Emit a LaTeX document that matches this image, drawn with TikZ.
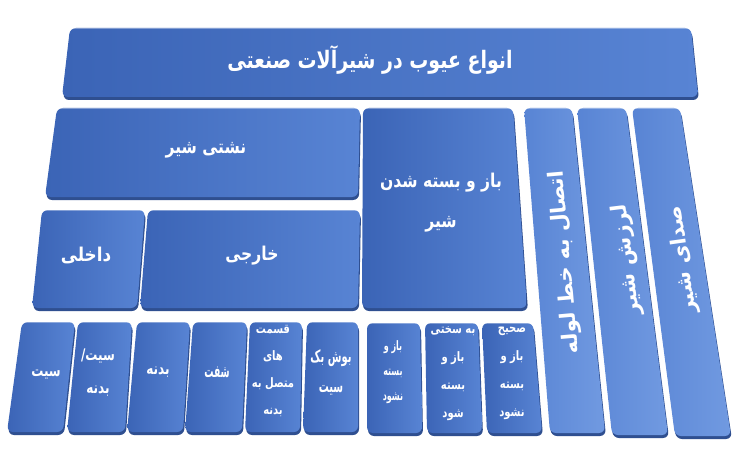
\documentclass[tikz,border=0pt]{standalone}
\usepackage{fontspec}
\newfontfamily\fa[Script=Arabic]{DejaVu Sans}
\TeXXeTstate=1
\definecolor{bdark}{HTML}{3B64B6}
\definecolor{blight}{HTML}{5884D4}
\definecolor{bedge}{HTML}{2F4F90}
\definecolor{vlight}{HTML}{719AE1}
\newcommand\R[1]{\beginR #1\endR}
\newcommand\panel[5]{%
  \fill[bedge, rounded corners=6pt, yshift=-3pt, xshift=1pt] #2 -- #3 -- #4 -- #5 -- cycle;
  \shade[rounded corners=6pt, #1] #2 -- #3 -- #4 -- #5 -- cycle;
  \draw[white, opacity=0.35, line width=0.8pt, rounded corners=6pt] #2 -- #3;}
\newcommand\fz[2]{\fa\bfseries\fontsize{#1}{#2}\selectfont}
\tikzset{
  boxfill/.style={left color=bdark, right color=blight},
  barfill/.style={left color=blight, right color=vlight},
  lbl/.style={text=white, align=center, inner sep=0pt},
  big/.style={lbl, font=\fz{24}{30}, xscale=0.79},
  mid/.style={lbl, font=\fz{19}{40}, xscale=0.82},
  vert/.style={lbl, font=\fz{21}{26}},
  small/.style={lbl, font=\fz{16}{33}, xscale=0.75},
  tiny/.style={lbl, font=\fz{13}{27}, xscale=0.77}
}
\begin{document}
\begin{tikzpicture}[x=1pt, y=-1pt]
\useasboundingbox[fill=white] (0,0) rectangle (750,468);
% title
\panel{boxfill}{(70,28)}{(691,28)}{(698,97)}{(62,97)}
% row 2
\panel{boxfill}{(57,108)}{(360,108)}{(358,197)}{(45,197)}
\panel{boxfill}{(363,108)}{(513,108)}{(527,308)}{(362,308)}
% right bars
\panel{barfill}{(524,108)}{(572,108)}{(605,433)}{(550,433)}
\panel{barfill}{(577,108)}{(626,108)}{(668,435)}{(612,435)}
\panel{barfill}{(632,108)}{(680,108)}{(731,436)}{(675,436)}
% row 3
\panel{boxfill}{(42,210)}{(145,210)}{(137,308)}{(32,308)}
\panel{boxfill}{(148,210)}{(360,210)}{(358,308)}{(140,308)}
% row 4
\panel{boxfill}{(22,322)}{(75,322)}{(63,432)}{(7,432)}
\panel{boxfill}{(78,322)}{(132,322)}{(125,432)}{(67,432)}
\panel{boxfill}{(137,322)}{(190,322)}{(183,432)}{(127,432)}
\panel{boxfill}{(193,322)}{(247,322)}{(242,432)}{(185,432)}
\panel{boxfill}{(250,322)}{(302,322)}{(300,432)}{(245,432)}
\panel{boxfill}{(307,322)}{(358,322)}{(358,432)}{(303,432)}
\panel{boxfill}{(367,323)}{(420,323)}{(422,433)}{(367,433)}
\panel{boxfill}{(425,323)}{(478,323)}{(482,433)}{(427,433)}
\panel{boxfill}{(482,323)}{(533,323)}{(542,433)}{(487,433)}
% labels
\node[big] (title) at (370,60) {\R{انواع عیوب در شیرآلات صنعتی}};
\node[mid] (leak) at (206,150) {\R{نشتی شیر}};
\node[mid] (open) at (441,203) {\R{باز و بسته شدن}\\\R{شیر}};
\node[mid, xscale=1.08] (inner) at (86,255) {\R{داخلی}};
\node[mid] (outer) at (252,256) {\R{خارجی}};
\node[vert, rotate=95] (pipe) at (565,262) {\R{اتصال به خط لوله}};
\node[vert, rotate=97] (vib) at (627,260) {\R{لرزش شیر}};
\node[vert, rotate=98] (noise) at (683,260) {\R{صدای شیر}};
\node[small] (s1) at (46,375) {\R{سیت}};
\node[small] (s2) at (98,373) {\R{سیت/}\\\R{بدنه}};
\node[small] (s3) at (158,372) {\R{بدنه}};
\node[small, font=\fz{17}{30}, xscale=0.72] (s4) at (217,372) {\R{شفت}};
\node[tiny] (s5) at (273,371) {\R{قسمت}\\\R{های}\\\R{متصل به}\\\R{بدنه}};
\node[small, font=\fz{17}{30}, xscale=0.78] (s6) at (331,372) {\R{بوش بک}\\\R{سیت}};
\node[tiny, font=\fz{13}{25}, xscale=0.8] (s7) at (393,372) {\R{باز و}\\\R{بسته}\\\R{نشود}};
\node[tiny, font=\fz{13}{28}] (s8) at (453,374) {\R{به سختی}\\\R{باز و}\\\R{بسته}\\\R{شود}};
\node[tiny, font=\fz{13}{28}] (s9) at (512,373) {\R{صحیح}\\\R{باز و}\\\R{بسته}\\\R{نشود}};
\end{tikzpicture}
\end{document}
